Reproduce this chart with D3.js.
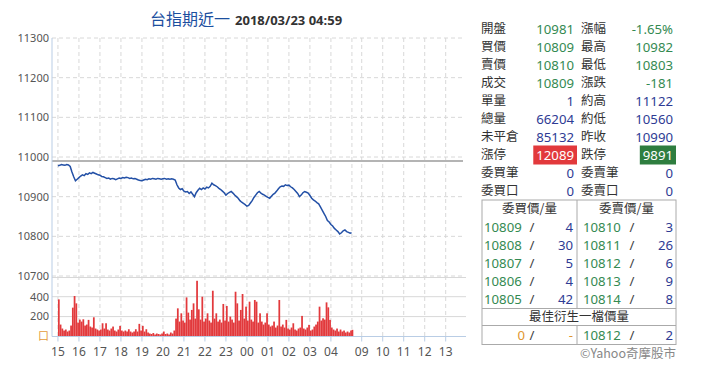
<!DOCTYPE html>
<html>
<head>
<meta charset="utf-8">
<script src="https://cdn.jsdelivr.net/npm/d3@7"></script>
<style>
    body { margin: 0; background: #fff; }
    svg text { font-family: "Noto Sans", "Liberation Sans", sans-serif; }
    svg text.cjk { font-family: "Noto Sans CJK TC", "Noto Sans", sans-serif; }
</style>
</head>
<body>
<div id="graph-placeholder"></div>
<script>
var titleName = '台指期近一',
    titleTime = '2018/03/23 04:59';

var prevClose = 10990;

// session minutes counted from 15:00; night session ends 05:00 (840), day session 08:45 (853) - 13:45
var xTickLabels = ['15', '16', '17', '18', '19', '20', '21', '22', '23', '00', '01', '02', '03', '04', '09', '10', '11', '12', '13'],
    xTickMinutes = [0, 60, 120, 180, 240, 300, 360, 420, 480, 540, 600, 660, 720, 780, 868, 928, 988, 1048, 1108],
    sessionBreak = 840;

var priceTicks = [11300, 11200, 11100, 11000, 10900, 10800, 10700];
var volumeTicks = [400, 200, 0],
    volumeTickLabels = ['400', '200', '口'];

// one point every 5 minutes from 15:00, last tick 04:59
var seriesMinutes = d3.range(0, 840, 5).concat([839]);

var priceValues = [
    10978, 10979, 10981, 10980, 10979, 10981, 10980, 10976, 10962, 10950,
    10940, 10944, 10948, 10952, 10955, 10953, 10958, 10956, 10960, 10958,
    10961, 10959, 10957, 10955, 10954, 10951, 10950, 10948, 10946, 10947,
    10944, 10946, 10945, 10943, 10945, 10947, 10946, 10948, 10947, 10949,
    10948, 10946, 10947, 10945, 10946, 10944, 10942, 10941, 10940, 10942,
    10944, 10943, 10945, 10944, 10946, 10945, 10944, 10946, 10945, 10944,
    10945, 10946, 10944, 10945, 10944, 10945, 10944, 10942, 10930, 10922,
    10918, 10920, 10914, 10912, 10913, 10908, 10912, 10906, 10900, 10910,
    10916, 10921, 10918, 10922, 10919, 10924, 10922, 10926, 10934, 10930,
    10928, 10925, 10921, 10918, 10914, 10910, 10904, 10908, 10911, 10913,
    10909, 10904, 10900, 10896, 10890, 10886, 10883, 10880, 10876, 10878,
    10884, 10890, 10898, 10904, 10910, 10913, 10909, 10906, 10904, 10901,
    10898, 10896, 10901, 10906, 10909, 10914, 10920, 10925, 10927, 10926,
    10930, 10928, 10929, 10925, 10922, 10918, 10913, 10908, 10900, 10904,
    10910, 10913, 10911, 10909, 10903, 10896, 10892, 10889, 10885, 10882,
    10874, 10866, 10858, 10850, 10840, 10836, 10830, 10826, 10820, 10816,
    10812, 10806, 10809, 10814, 10816, 10812, 10810, 10808, 10809
];

var volumeValues = [
    373, 120, 80, 60, 70, 50, 60, 110, 290, 407,
    333, 140, 170, 150, 173, 110, 120, 167, 100, 90,
    193, 80, 70, 60, 70, 133, 80, 133, 70, 60,
    80, 100, 60, 50, 70, 107, 60, 50, 60, 50,
    73, 50, 40, 50, 73, 50, 127, 60, 107, 50,
    73, 40, 30, 25, 35, 20, 30, 25, 20, 30,
    50, 25, 30, 20, 40, 30, 60, 180, 283, 150,
    233, 160, 140, 393, 240, 170, 267, 333, 180, 560,
    273, 170, 400, 150, 180, 233, 160, 140, 460, 180,
    233, 150, 170, 140, 327, 160, 307, 150, 200, 170,
    140, 450, 333, 160, 267, 427, 180, 300, 160, 350,
    170, 150, 367, 350, 140, 233, 150, 120, 140, 233,
    120, 100, 110, 150, 90, 110, 367, 100, 120, 90,
    167, 80, 70, 90, 133, 70, 60, 80, 90, 207,
    80, 70, 90, 117, 60, 70, 100, 120, 150, 300,
    160, 183, 170, 343, 293, 167, 90, 70, 60, 80,
    50, 70, 50, 60, 40, 50, 40, 60, 67
];

var quoteRows = [
    ['開盤', 10981, '漲幅', '-1.65%'],
    ['買價', 10809, '最高', 10982],
    ['賣價', 10810, '最低', 10803],
    ['成交', 10809, '漲跌', -181],
    ['單量', 1, '約高', 11122],
    ['總量', 66204, '約低', 10560],
    ['未平倉', 85132, '昨收', 10990],
    ['漲停', 12089, '跌停', 9891],
    ['委買筆', 0, '委賣筆', 0],
    ['委買口', 0, '委賣口', 0]
];
var priceFields = ['開盤', '買價', '賣價', '成交', '漲幅', '最高', '最低', '漲跌'];

var bookHeaders = ['委買價/量', '委賣價/量'],
    bidPrices = [10809, 10808, 10807, 10806, 10805],
    bidQty = [4, 30, 5, 4, 42],
    askPrices = [10810, 10811, 10812, 10813, 10814],
    askQty = [3, 26, 6, 9, 8];
var derivedTitle = '最佳衍生一檔價量',
    derivedBid = ['0', '-'],
    derivedAsk = [10812, 2];
var creditText = '©Yahoo奇摩股市';

var GREEN = '#348a52', NAVY = '#2e3b94', RED = '#e2393c', LABEL = '#333', GRID = '#d8d8d8', AXIS = '#b9cde5';

var QuoteChart = function () {

    var width = 703, height = 382,
        plot = {left: 52, right: 466, top: 38, priceBottom: 276, volTop: 296.7, bottom: 336.5};

    var svg = d3.select('#graph-placeholder')
        .append('svg')
        .attr('width', width)
        .attr('height', height);

    var xScale = d3.scaleLinear()
        .domain([-17, 1166])
        .range([plot.left, plot.right]);

    var yPrice = d3.scaleLinear()
        .domain([10700, 11300])
        .range([plot.priceBottom, plot.top]);

    var yVol = d3.scaleLinear()
        .domain([0, 400])
        .range([plot.bottom, plot.volTop]);

    this.draw = function () {
        // title
        var title = svg.append('text')
            .attr('x', 150)
            .attr('y', 25);
        title.append('tspan')
            .style('font-family', '"Noto Sans CJK TC", sans-serif')
            .attr('font-size', 16)
            .attr('fill', '#1c4f9f')
            .text(titleName);
        title.append('tspan')
            .attr('dx', 5)
            .attr('font-size', 13)
            .attr('font-weight', 'bold')
            .attr('fill', '#333')
            .text(titleTime);

        var grid = svg.append('g');

        // vertical dashed grid, through price and volume panes
        grid.selectAll('.vgrid')
            .data(xTickMinutes.concat([sessionBreak]))
            .enter().append('line')
            .attr('x1', function (d) { return xScale(d) })
            .attr('x2', function (d) { return xScale(d) })
            .attr('y1', plot.top)
            .attr('y2', plot.bottom)
            .attr('stroke', GRID)
            .attr('stroke-dasharray', '4,3');

        // price grid
        grid.selectAll('.pgrid')
            .data(priceTicks)
            .enter().append('line')
            .attr('x1', plot.left)
            .attr('x2', plot.right - 3)
            .attr('y1', function (d) { return yPrice(d) })
            .attr('y2', function (d) { return yPrice(d) })
            .attr('stroke', GRID)
            .attr('stroke-dasharray', '4,3');

        // top of volume pane
        grid.append('line')
            .attr('x1', plot.left).attr('x2', plot.right)
            .attr('y1', plot.priceBottom + 1.5).attr('y2', plot.priceBottom + 1.5)
            .attr('stroke', GRID);

        grid.selectAll('.vol-grid')
            .data(volumeTicks.slice(0, 2))
            .enter().append('line')
            .attr('x1', plot.left)
            .attr('x2', plot.right)
            .attr('y1', function (d) { return yVol(d) })
            .attr('y2', function (d) { return yVol(d) })
            .attr('stroke', GRID);

        // volume bars
        svg.append('g')
            .selectAll('rect')
            .data(volumeValues)
            .enter().append('rect')
            .attr('x', function (d, i) { return xScale(seriesMinutes[i]) })
            .attr('width', function (d, i) { return xScale(seriesMinutes[i] + 5) - xScale(seriesMinutes[i]) })
            .attr('y', function (d) { return yVol(d) })
            .attr('height', function (d) { return yVol(0) - yVol(d) })
            .attr('fill', RED);

        // previous close
        svg.append('line')
            .attr('x1', plot.left)
            .attr('x2', plot.right - 3)
            .attr('y1', yPrice(prevClose))
            .attr('y2', yPrice(prevClose))
            .attr('stroke', '#b4b4b4')
            .attr('stroke-width', 2);

        var line = d3.line()
            .x(function (d, i) { return xScale(seriesMinutes[i]) })
            .y(function (d) { return yPrice(d) });

        svg.append('path')
            .datum(priceValues)
            .attr('d', line)
            .attr('fill', 'none')
            .attr('stroke', '#2350a6')
            .attr('stroke-width', 1.5);

        // axes
        svg.append('line')
            .attr('x1', plot.left).attr('x2', plot.left)
            .attr('y1', plot.top).attr('y2', plot.bottom)
            .attr('stroke', AXIS);
        svg.append('line')
            .attr('x1', plot.left).attr('x2', plot.right)
            .attr('y1', plot.bottom).attr('y2', plot.bottom)
            .attr('stroke', AXIS);

        svg.selectAll('.xtick')
            .data(xTickMinutes)
            .enter().append('line')
            .attr('x1', function (d) { return xScale(d) })
            .attr('x2', function (d) { return xScale(d) })
            .attr('y1', plot.bottom)
            .attr('y2', plot.bottom + 5)
            .attr('stroke', AXIS);

        svg.selectAll('.xlabel')
            .data(xTickLabels)
            .enter().append('text')
            .attr('x', function (d, i) { return xScale(xTickMinutes[i]) })
            .attr('y', 356)
            .attr('text-anchor', 'middle')
            .attr('font-size', 12)
            .attr('fill', '#555')
            .text(function (d) { return d });

        svg.selectAll('.plabel')
            .data(priceTicks)
            .enter().append('text')
            .attr('x', plot.left - 3)
            .attr('y', function (d) { return yPrice(d) })
            .attr('dy', '0.35em')
            .attr('text-anchor', 'end')
            .attr('font-size', 11)
            .attr('fill', '#555')
            .text(function (d) { return d });

        svg.selectAll('.vlabel')
            .data(volumeTicks)
            .enter().append('text')
            .attr('class', function (d, i) { return i === 2 ? 'cjk' : null })
            .attr('x', plot.left - 3)
            .attr('y', function (d) { return yVol(d) })
            .attr('dy', '0.35em')
            .attr('text-anchor', 'end')
            .attr('font-size', 11)
            .attr('fill', function (d, i) { return i === 2 ? '#e39a3c' : '#555' })
            .text(function (d, i) { return volumeTickLabels[i] });

        drawQuotes();
    };

    var valueColor = function (label, value) {
        if (priceFields.indexOf(label) < 0) return NAVY;
        if (typeof value === 'string') return value.charAt(0) === '-' ? GREEN : RED;
        if (label === '漲跌') return value < 0 ? GREEN : RED;
        return value < prevClose ? GREEN : (value > prevClose ? RED : NAVY);
    };

    var drawQuotes = function () {
        var q = svg.append('g'),
            rowY = function (i) { return 29 + i * 18 },
            col = [{label: 481, value: 574}, {label: 581, value: 673}];

        quoteRows.forEach(function (row, i) {
            [0, 1].forEach(function (c) {
                var label = row[c * 2], value = row[c * 2 + 1];
                q.append('text')
                    .attr('class', 'cjk')
                    .attr('x', col[c].label)
                    .attr('y', rowY(i))
                    .attr('dy', '0.35em')
                    .attr('font-size', 12.5)
                    .attr('fill', LABEL)
                    .text(label);

                var t = q.append('text')
                    .attr('x', col[c].value)
                    .attr('y', rowY(i))
                    .attr('dy', '0.35em')
                    .attr('text-anchor', 'end')
                    .attr('font-size', 13.2)
                    .attr('fill', valueColor(label, value))
                    .text(value);

                if (label === '漲停' || label === '跌停') {
                    var bb = t.node().getBBox();
                    q.insert('rect', function () { return t.node() })
                        .attr('x', bb.x - 3)
                        .attr('y', rowY(i) - 9.5)
                        .attr('width', bb.width + 6)
                        .attr('height', 19)
                        .attr('fill', label === '漲停' ? RED : '#2e7d3f');
                    t.attr('fill', '#fff');
                }
            });
        });

        // order book table
        var tLeft = 482, tRight = 676, tMid = 577, tTop = 200,
            bookY = function (i) { return tTop + 9 + (i + 1) * 18 },
            lineY = bookY(4) + 9.5,
            derivedY = lineY + 8.5,
            lastLineY = lineY + 17,
            lastY = lastLineY + 9.5,
            tBottom = lastLineY + 19;

        q.append('rect')
            .attr('x', tLeft).attr('y', tTop)
            .attr('width', tRight - tLeft).attr('height', tBottom - tTop)
            .attr('fill', 'none').attr('stroke', '#aaa');
        q.append('line')
            .attr('x1', tMid).attr('x2', tMid).attr('y1', tTop).attr('y2', lineY)
            .attr('stroke', '#aaa');
        q.append('line')
            .attr('x1', tMid).attr('x2', tMid).attr('y1', lastLineY).attr('y2', tBottom)
            .attr('stroke', '#aaa');
        [lineY, lastLineY].forEach(function (y) {
            q.append('line')
                .attr('x1', tLeft).attr('x2', tRight).attr('y1', y).attr('y2', y)
                .attr('stroke', '#aaa');
        });

        bookHeaders.forEach(function (h, c) {
            q.append('text')
                .attr('class', 'cjk')
                .attr('x', c === 0 ? (tLeft + tMid) / 2 : (tMid + tRight) / 2)
                .attr('y', tTop + 9)
                .attr('dy', '0.35em')
                .attr('text-anchor', 'middle')
                .attr('font-size', 12.5)
                .attr('fill', LABEL)
                .text(h);
        });

        var bookRow = function (y, c, price, qty, priceColor, qtyColor) {
            var x0 = c === 0 ? tLeft + 2 : tMid + 6,
                xr = c === 0 ? tMid - 4 : tRight - 3,
                xs = c === 0 ? 532 : 632;
            q.append('text')
                .attr('x', c === 0 && price === derivedBid[0] ? xs - 7 : x0)
                .attr('y', y).attr('dy', '0.35em')
                .attr('text-anchor', c === 0 && price === derivedBid[0] ? 'end' : 'start')
                .attr('font-size', 13.2)
                .attr('fill', priceColor)
                .text(price);
            q.append('text')
                .attr('x', xs).attr('y', y).attr('dy', '0.35em')
                .attr('text-anchor', 'middle')
                .attr('font-size', 13.2)
                .attr('fill', '#444')
                .text('/');
            q.append('text')
                .attr('x', xr).attr('y', y).attr('dy', '0.35em')
                .attr('text-anchor', 'end')
                .attr('font-size', 13.2)
                .attr('fill', qtyColor)
                .text(qty);
        };

        bidPrices.forEach(function (p, i) {
            bookRow(bookY(i), 0, p, bidQty[i], GREEN, NAVY);
            bookRow(bookY(i), 1, askPrices[i], askQty[i], GREEN, NAVY);
        });

        q.append('text')
            .attr('class', 'cjk')
            .attr('x', (tLeft + tRight) / 2)
            .attr('y', derivedY).attr('dy', '0.35em')
            .attr('text-anchor', 'middle')
            .attr('font-size', 12.5)
            .attr('fill', LABEL)
            .text(derivedTitle);

        bookRow(lastY, 0, derivedBid[0], derivedBid[1], '#df962f', '#df962f');
        bookRow(lastY, 1, derivedAsk[0], derivedAsk[1], GREEN, NAVY);

        q.append('text')
            .attr('class', 'cjk')
            .attr('x', tRight)
            .attr('y', tBottom + 9).attr('dy', '0.35em')
            .attr('text-anchor', 'end')
            .attr('font-size', 12.5)
            .attr('fill', '#888')
            .text(creditText);
    };
};

var chart = new QuoteChart();
chart.draw();
</script>
</body>
</html>
